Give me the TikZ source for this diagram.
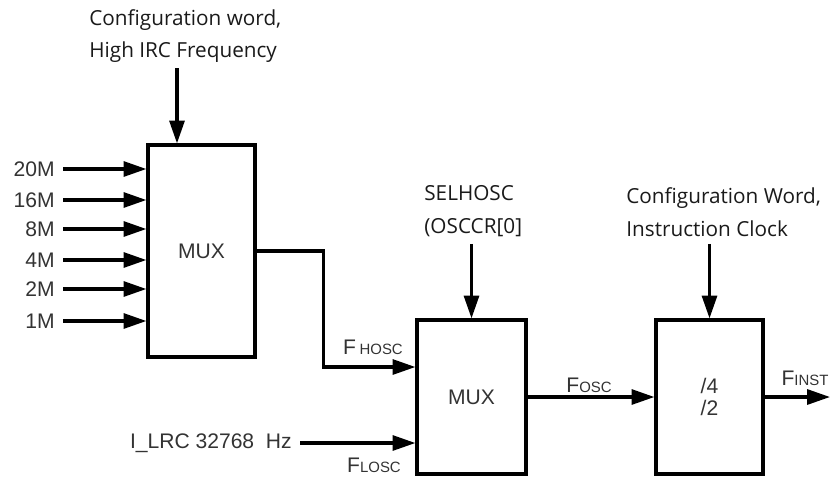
\documentclass[tikz,border=0pt]{standalone}
\usepackage{fontspec}
\setmainfont{Liberation Sans}
\newfontfamily\notefont{Open Sans}
\usetikzlibrary{arrows.meta,positioning}

\definecolor{labelgray}{HTML}{333333}
\definecolor{notegray}{HTML}{1A1A1A}

\tikzstyle{block}=[rectangle, draw, line width=1.8pt, inner sep=0pt,
                   text=labelgray, font=\fontsize{12}{14}\selectfont]
\tikzstyle{sig}=[-{Triangle[length=13pt,width=8.5pt]}, line width=1.8pt]
\tikzstyle{note}=[align=left, anchor=west, inner sep=0pt, text=notegray,
                  font=\notefont\fontsize{11.8}{18.7}\selectfont]
\tikzstyle{freq}=[text=labelgray, inner sep=0pt,
                  font=\fontsize{12}{14}\selectfont]

\newcommand{\fsig}[2]{F#1{\fontsize{8.5}{9}\selectfont #2}}

\begin{document}
\begin{tikzpicture}[x=0.02cm, y=-0.02cm]

\useasboundingbox (0,0) rectangle (830,477);

%%%%%%%%%%%%%%%%%%%%%%%%%%%%%%
% blocks

\node (mux1) at (201.5, 251) [block, minimum width=2.14cm, minimum height=4.24cm] {MUX};
\node (mux2) at (471.5, 397) [block, minimum width=2.18cm, minimum height=3.08cm] {MUX};
\node (div) at (709.5, 397) [block, minimum width=2.14cm, minimum height=3.08cm,
                             align=center, font=\fontsize{12}{13}\selectfont] {/4\\/2};

%%%%%%%%%%%%%%%%%%%%%%%%%%%%%%
% notes

\node (cfg) at (89, 36) [note] {Configuration word,\\High IRC Frequency};
\node (sel) at (424, 211) [note] {SELHOSC\\(OSCCR[0]};
\node (ins) at (626, 212) [note] {Configuration Word,\\Instruction Clock};

%%%%%%%%%%%%%%%%%%%%%%%%%%%%%%
% inputs

\foreach \f/\y in {20/169, 16/200, 8/229, 4/260, 2/289, 1/321}{
  \node (in\f) at (63, \y) [freq, anchor=east, inner xsep=4.5pt] {\f M};
  \draw [sig] (in\f) to (in\f -| mux1.west);
}

\node (lrc) at (300, 443) [freq, anchor=east, inner xsep=4.5pt] {I\_LRC 32768\ \ Hz};

%%%%%%%%%%%%%%%%%%%%%%%%%%%%%%
% links

\coordinate (c1) at (177, 68);
\draw [sig] (c1) to (c1 |- mux1.north);
\draw [sig, shorten <=4pt] (sel.south -| mux2.north) to (mux2.north);
\draw [sig, shorten <=4pt] (ins.south -| div.north) to (div.north);

\draw [sig] (mux1.east) -- ++(67, 0) |- ([yshift=0.6cm]mux2.west);
\draw [sig] (lrc) to (lrc -| mux2.west);
\draw [sig] (mux2.east) to (div.west);

\coordinate (out) at (830, 397);
\draw [sig] (div.east) to (out);

%%%%%%%%%%%%%%%%%%%%%%%%%%%%%%
% signal names

\node (fhosc) at (373, 347) [freq] {\fsig{\,}{HOSC}};
\node (flosc) at (374, 465) [freq] {\fsig{}{LOSC}};
\node (fosc) at (589, 385) [freq] {\fsig{}{OSC}};
\node (finst) at (805, 378) [freq] {\fsig{}{INST}};

\end{tikzpicture}
\end{document}
